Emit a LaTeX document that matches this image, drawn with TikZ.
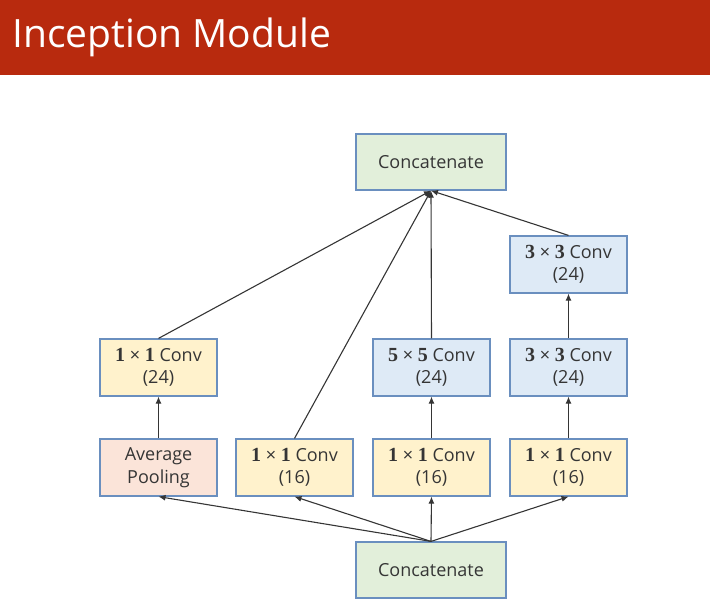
\documentclass[tikz,border=0pt]{standalone}
\usepackage[no-math]{fontspec}
\setmainfont{Open Sans}
\newfontfamily\nf{Liberation Serif}
\usetikzlibrary{arrows.meta}
\definecolor{titlered}{HTML}{B82A0E}
\definecolor{bordblue}{HTML}{6A8FBF}
\definecolor{fyellow}{HTML}{FFF2CC}
\definecolor{fpink}{HTML}{FBE4D9}
\definecolor{fblue}{HTML}{DEEAF6}
\definecolor{fgreen}{HTML}{E2EFDA}
\definecolor{txt}{HTML}{353535}
\newcommand{\nb}[1]{{\nf\bfseries\fontsize{20}{22.5}\selectfont #1}}
\newcommand{\cv}[2]{\nb{#1} × \nb{#1} Conv\\(#2)}
\begin{document}
\begin{tikzpicture}[x=1pt,y=-1pt,
  box/.style={draw=bordblue,line width=1.2pt,minimum width=117pt,minimum height=57pt,inner sep=0pt,align=center,text=txt,font=\fontsize{18}{22.5}\selectfont},
  cat/.style={box,fill=fgreen,minimum width=150pt,minimum height=56pt},
  yb/.style={box,fill=fyellow},
  pb/.style={box,fill=fpink},
  bb/.style={box,fill=fblue},
  conn/.style={draw=txt,line width=1.1pt,-{Latex[length=7pt,width=6pt]}}]
\useasboundingbox (0,0) rectangle (710,605);
\fill[titlered] (0,0) rectangle (710,75);
\node[anchor=base west,text=white,font=\fontsize{39}{41}\selectfont,inner sep=0pt] (title) at (12,47) {Inception Module};

\node[cat] (top) at (431,162) {Concatenate};
\node[cat] (bot) at (431,570) {Concatenate};

\node[pb] (pool) at (158.5,467.5) {Average\\Pooling};
\node[yb] (c2) at (294.5,467.5) {\cv{1}{16}};
\node[yb] (c3) at (431.5,467.5) {\cv{1}{16}};
\node[yb] (c4) at (568.5,467.5) {\cv{1}{16}};

\node[yb] (m1) at (158.5,367.5) {\cv{1}{24}};
\node[bb] (m3) at (431.5,367.5) {\cv{5}{24}};
\node[bb] (m4) at (568.5,367.5) {\cv{3}{24}};

\node[bb] (t4) at (568.5,264.5) {\cv{3}{24}};

\foreach \n in {pool,c2,c3,c4} \draw[conn] (bot.north) -- (\n.south);
\draw[conn] (pool) -- (m1);
\draw[conn] (c3) -- (m3);
\draw[conn] (c4) -- (m4);
\draw[conn] (m4) -- (t4);
\foreach \n in {m1,c2,m3,t4} \draw[conn] (\n.north) -- (top.south);
\end{tikzpicture}
\end{document}
